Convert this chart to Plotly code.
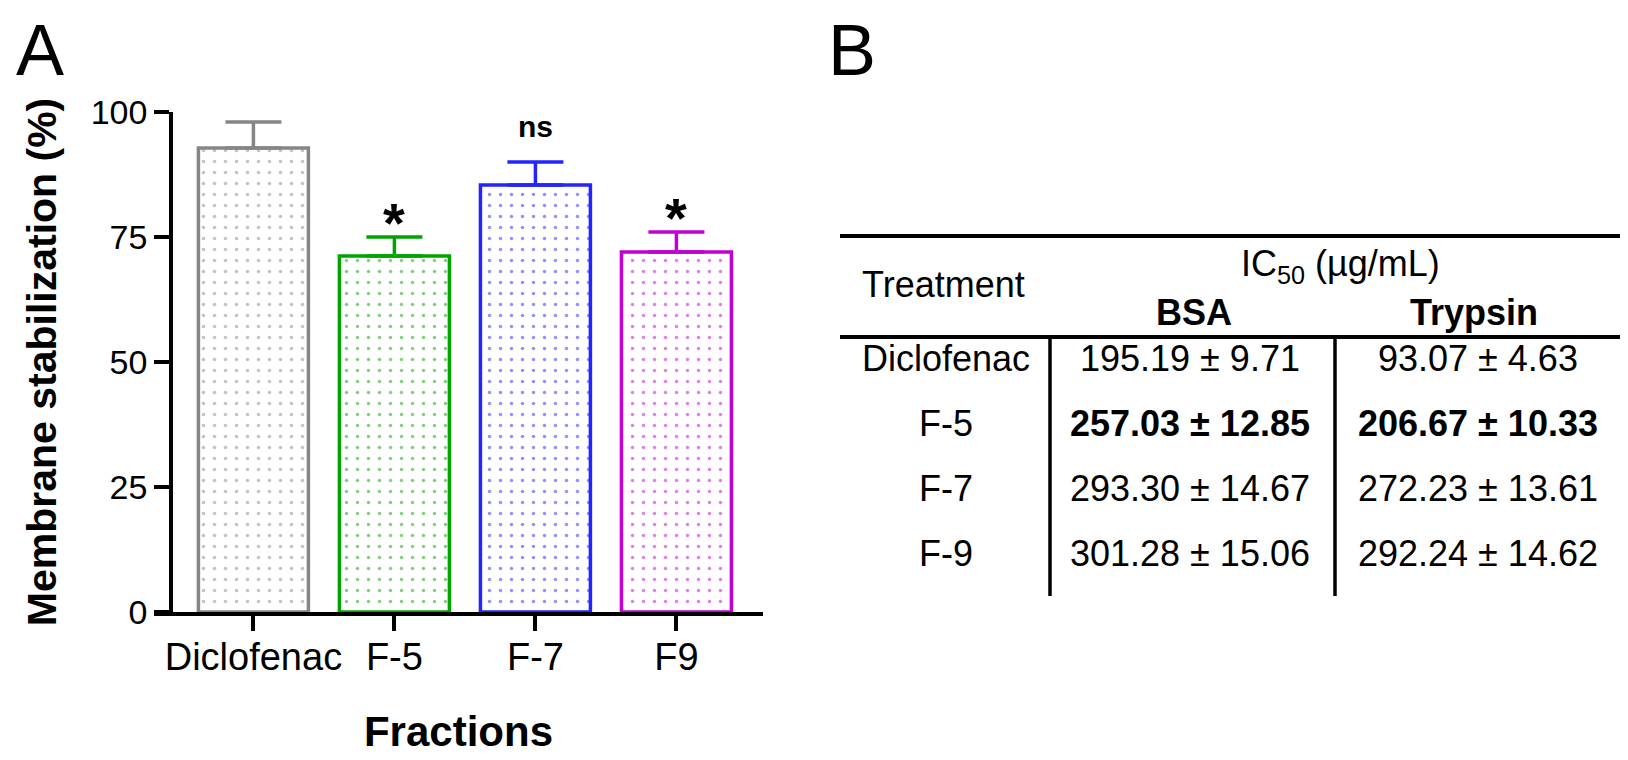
import plotly.graph_objects as go

# Panel A data
categories = ["Diclofenac", "F-5", "F-7", "F9"]
means = [92.8, 71.2, 85.4, 72.0]
sem = [5.2, 3.8, 4.6, 4.0]
colors = ["#868686", "#00a400", "#2424ff", "#c200d4"]
signif = ["", "*", "ns", "*"]
y_ticks = [0, 25, 50, 75, 100]

# Panel B table
treatments = ["Diclofenac", "F-5", "F-7", "F-9"]
bsa_ic50 = ["195.19 ± 9.71", "257.03 ± 12.85", "293.30 ± 14.67", "301.28 ± 15.06"]
trypsin_ic50 = ["93.07 ± 4.63", "206.67 ± 10.33", "272.23 ± 13.61", "292.24 ± 14.62"]
bold_rows = ["F-5"]

W, H = 1628, 760
OFF = 8
ML, MR, MT, MB = 146, 20, 112 - OFF, 148 + OFF
PW, PH = W - ML - MR, H - MT - MB
FONT = "Liberation Sans, Arial, sans-serif"


def px(x):
    return (x - OFF - ML) / PW


def py(y):
    return 1 - (y - OFF - MT) / PH


fig = go.Figure()

for cat, m, e, c in zip(categories, means, sem, colors):
    fig.add_trace(go.Bar(
        x=[cat], y=[m], width=0.78,
        marker=dict(color="white", line=dict(color=c, width=3.5),
                    pattern=dict(shape=".", fgcolor=c, bgcolor="white", size=11, solidity=0.08)),
        error_y=dict(type="data", array=[e], arrayminus=[0], symmetric=False,
                     color=c, thickness=3.5, width=28),
        showlegend=False,
    ))

# significance marks above error bars
for cat, m, e, s in zip(categories, means, sem, signif):
    if not s:
        continue
    star = s == "*"
    fig.add_annotation(x=cat, y=m + e, yref="y", text=f"<b>{s}</b>", showarrow=False,
                       yanchor="bottom", yshift=-19 if star else 17,
                       font=dict(family=FONT, size=56 if star else 30, color="black"))

fig.update_layout(
    width=W, height=H,
    margin=dict(l=ML, r=MR, t=MT, b=MB),
    paper_bgcolor="white", plot_bgcolor="white",
    font=dict(family=FONT, color="black"),
    xaxis=dict(
        domain=[0, px(763)], range=[-0.705, 3.614],
        showline=True, linecolor="black", linewidth=3.5,
        ticks="outside", ticklen=15, tickwidth=3.5, tickcolor="black",
        tickfont=dict(size=38), ticklabelstandoff=-6, showgrid=False, zeroline=False,
        title=dict(text="<b>Fractions</b>", font=dict(size=42), standoff=40),
    ),
    yaxis=dict(
        range=[0, 100], tickvals=y_ticks, anchor="free", position=px(171),
        showline=True, linecolor="black", linewidth=3.5,
        ticks="outside", ticklen=15, tickwidth=3.5, tickcolor="black",
        tickfont=dict(size=34), showgrid=False, zeroline=False,
        title=dict(text="<b>Membrane stabilization (%)</b>", font=dict(size=41), standoff=20),
    ),
)

# panel letters
for letter, lx in (("A", 40), ("B", 852)):
    fig.add_annotation(x=px(lx), y=py(8), xref="paper", yref="paper", text=letter, showarrow=False,
                       xanchor="center", yanchor="top",
                       font=dict(family=FONT, size=72, color="black"))

# table rules
t_left, t_right = 840, 1620
top_rule, head_rule, t_bottom = 236, 337, 596
col_x = [946, 1190, 1478]
div_x = [1050, 1335]
row_y = [358, 423, 488, 553]

for yy in (top_rule, head_rule):
    fig.add_shape(type="line", xref="paper", yref="paper", x0=px(t_left), x1=px(t_right),
                  y0=py(yy), y1=py(yy), line=dict(color="black", width=4))
for d in div_x:
    fig.add_shape(type="line", xref="paper", yref="paper", x0=px(d), x1=px(d),
                  y0=py(head_rule), y1=py(t_bottom), line=dict(color="black", width=3.5))

TFS = 36


def cell(x, y, text):
    fig.add_annotation(x=px(x), y=py(y), xref="paper", yref="paper", text=text, showarrow=False,
                       xanchor="center", yanchor="middle", font=dict(family=FONT, size=TFS, color="black"))


cell(943, 284, "Treatment")
cell(1340, 266, "IC<sub>50</sub> (µg/mL)")
cell(1194, 312, "<b>BSA</b>")
cell(1474, 312, "<b>Trypsin</b>")

for name, b, t, y in zip(treatments, bsa_ic50, trypsin_ic50, row_y):
    if name in bold_rows:
        b, t = f"<b>{b}</b>", f"<b>{t}</b>"
    cell(col_x[0], y, name)
    cell(col_x[1], y, b)
    cell(col_x[2], y, t)

fig.write_html("out.html")
